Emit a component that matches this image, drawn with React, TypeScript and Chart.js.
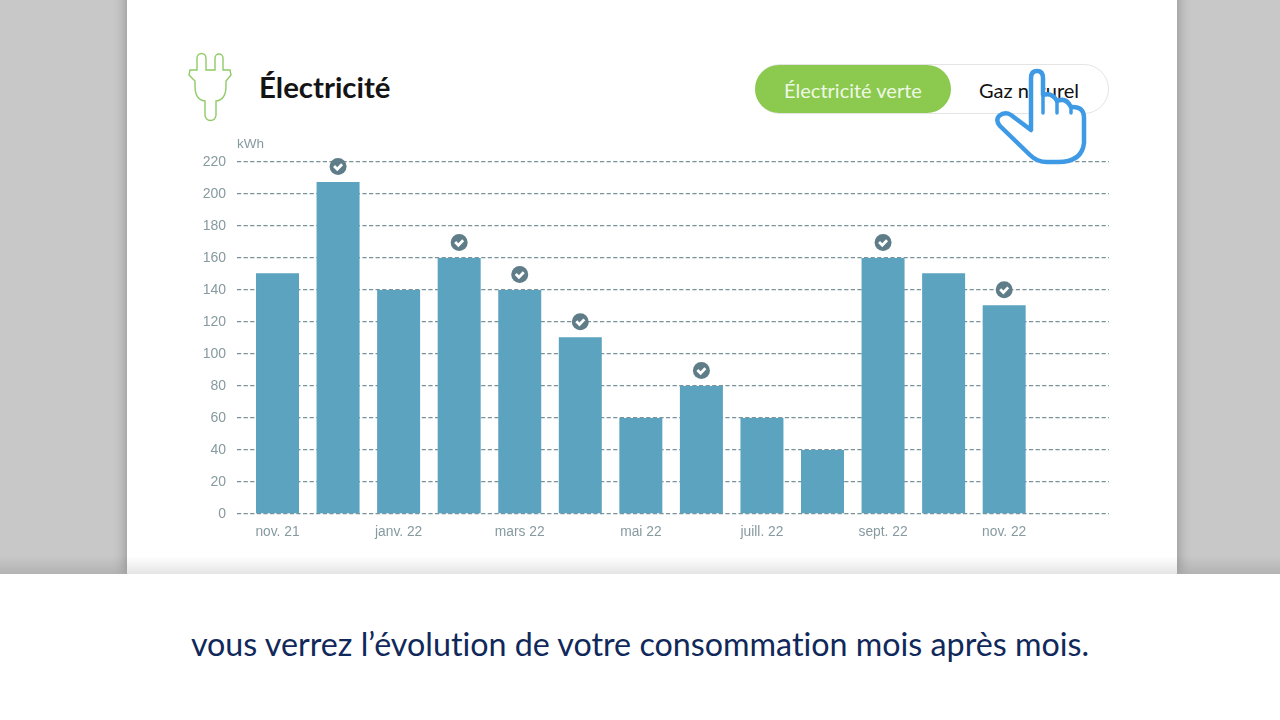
import React, { useEffect, useRef } from "react";
import { Chart, registerables } from "chart.js";

Chart.register(...registerables);

const months = ["nov. 21", "déc. 21", "janv. 22", "févr. 22", "mars 22", "avr. 22", "mai 22", "juin 22", "juill. 22", "août 22", "sept. 22", "oct. 22", "nov. 22"];
const consumption = [150.5, 207.5, 140, 160, 140, 110.5, 60, 80, 60, 40, 160, 150.5, 130.5];
const validated = [false, true, false, true, true, true, false, true, false, false, true, false, true];
const unit = "kWh";
const axisColor = "#869a9f";

const checkMarks = {
  id: "checkMarks",
  afterDatasetsDraw(chart: any) {
    const { ctx, scales } = chart;
    ctx.save();
    consumption.forEach((v, i) => {
      if (!validated[i]) return;
      const x = scales.x.getPixelForValue(i);
      const y = scales.y.getPixelForValue(v) - 15.5;
      ctx.beginPath();
      ctx.arc(x, y, 8.5, 0, Math.PI * 2);
      ctx.fillStyle = "#5f7d88";
      ctx.fill();
      ctx.beginPath();
      ctx.moveTo(x - 4, y - 0.5);
      ctx.lineTo(x - 0.8, y + 2.7);
      ctx.lineTo(x + 4, y - 2.3);
      ctx.strokeStyle = "#ffffff";
      ctx.lineWidth = 2.8;
      ctx.stroke();
    });
    ctx.fillStyle = axisColor;
    ctx.font = '13.5px "Liberation Sans"';
    ctx.textAlign = "left";
    ctx.textBaseline = "middle";
    ctx.fillText(unit, scales.x.left, scales.y.top - 18);
    ctx.restore();
  },
};

export default function App() {
  const ref = useRef<HTMLCanvasElement>(null);
  useEffect(() => {
    document.body.style.margin = "0";
    const chart = new Chart(ref.current!, {
      type: "bar",
      data: {
        labels: months,
        datasets: [{
          data: consumption.map((y, x) => ({ x, y })),
          backgroundColor: "#5ba3bf",
          barPercentage: 0.71,
          categoryPercentage: 1,
        }],
      },
      options: {
        animation: false,
        responsive: false,
        layout: { padding: { left: 177, right: 171, top: 162, bottom: 166 } },
        plugins: { legend: { display: false }, tooltip: { enabled: false } },
        scales: {
          x: {
            type: "linear",
            offset: false,
            min: -0.669,
            max: 13.731,
            afterFit: (s: any) => { s.height = 40; },
            grid: { display: false },
            border: { display: false },
            ticks: {
              stepSize: 2,
              includeBounds: false,
              maxRotation: 0,
              autoSkip: false,
              padding: 2,
              color: axisColor,
              font: { family: "Liberation Sans", size: 13.8 },
              callback: (v: any) => months[v] ?? "",
            },
          },
          y: {
            min: 0,
            max: 220,
            afterFit: (s: any) => { s.width = 60; },
            grid: { color: "#78929a", lineWidth: 1.3, drawTicks: false },
            border: { display: false, dash: [4.2, 2.4] },
            ticks: {
              stepSize: 20,
              padding: 11,
              color: axisColor,
              font: { family: "Liberation Sans", size: 14 },
            },
          },
        },
      },
      plugins: [checkMarks],
    } as any);
    return () => chart.destroy();
  }, []);

  const abs = (o: React.CSSProperties): React.CSSProperties => ({ position: "absolute", ...o });
  const noLiga = { fontVariantLigatures: "none", fontFeatureSettings: '"liga" 0, "clig" 0' } as React.CSSProperties;
  return (
    <div style={{ position: "relative", width: 1280, height: 720, overflow: "hidden", background: "#c8c8c8" }}>
      <div style={abs({ left: 127, top: -20, width: 1050, height: 594, background: "#fff", boxShadow: "0 0 13px rgba(0,0,0,.32)" })} />
      <svg width={1280} height={200} style={abs({ left: 0, top: 0 })}>
        <path d="M197 70 V58 a4.5 4.5 0 0 1 9 0 V70 H215 V58 a4 4 0 0 1 8 0 V70 H230 L231 75 L226 81 V86 Q226 100 216 101 V115 a5.5 5.5 0 0 1 -11 0 V101 Q195 100 195 86 V81 L189 75 L190 70 Z" fill="none" stroke="#8fcb66" strokeWidth={1.4} />
      </svg>
      <div style={abs({ left: 259, top: 69, font: '700 29.4px Lato', color: "#141414", lineHeight: "36px", ...noLiga })}>Électricité</div>
      <div style={abs({ left: 755, top: 64, width: 352, height: 48, borderRadius: 25, border: "1px solid #e4e4e4", background: "#fff" })} />
      <div style={abs({ left: 755, top: 65, width: 196, height: 48, borderRadius: 24, background: "#8bc94f", color: "#eef8e4", font: '20px Lato', lineHeight: "51px", textAlign: "center", ...noLiga })}>Électricité verte</div>
      <div style={abs({ left: 979, top: 65, font: '20px Lato', lineHeight: "51px", color: "#111", ...noLiga })}>Gaz naturel</div>
      <canvas ref={ref} width={1280} height={720} style={abs({ left: 0, top: 0 })} />
      <svg width={1280} height={200} style={abs({ left: 0, top: 0 })}>
        <path d="M1031 130 V78 Q1031 71 1037 71 Q1043 71 1043 78 V95 Q1052 92 1057 101 Q1066 97 1071 107 Q1084 106 1084 118 V143 Q1082 162 1058 162 H1047 Q1037 162 1030 155 L1000 126 Q995 120 999 116 Q1005 111 1011 115 Z" fill="#fff" stroke="#3f9ae6" strokeWidth={4.5} strokeLinejoin="round" />
        <path d="M1043 95 V113 M1057 101 V113 M1071 107 V113" fill="none" stroke="#3f9ae6" strokeWidth={3.5} strokeLinecap="round" />
      </svg>
      <div style={abs({ left: 0, top: 556, width: 1280, height: 18, background: "linear-gradient(rgba(0,0,0,0), rgba(0,0,0,.1))" })} />
      <div style={abs({ left: 0, top: 574, width: 1280, height: 146, background: "#fff" })} />
      <div style={abs({ left: 0, top: 621, width: 1280, textAlign: "center", font: '32.25px Lato', lineHeight: "46px", color: "#10285a", ...noLiga })}>vous verrez l’évolution de votre consommation mois après mois.</div>
    </div>
  );
}
